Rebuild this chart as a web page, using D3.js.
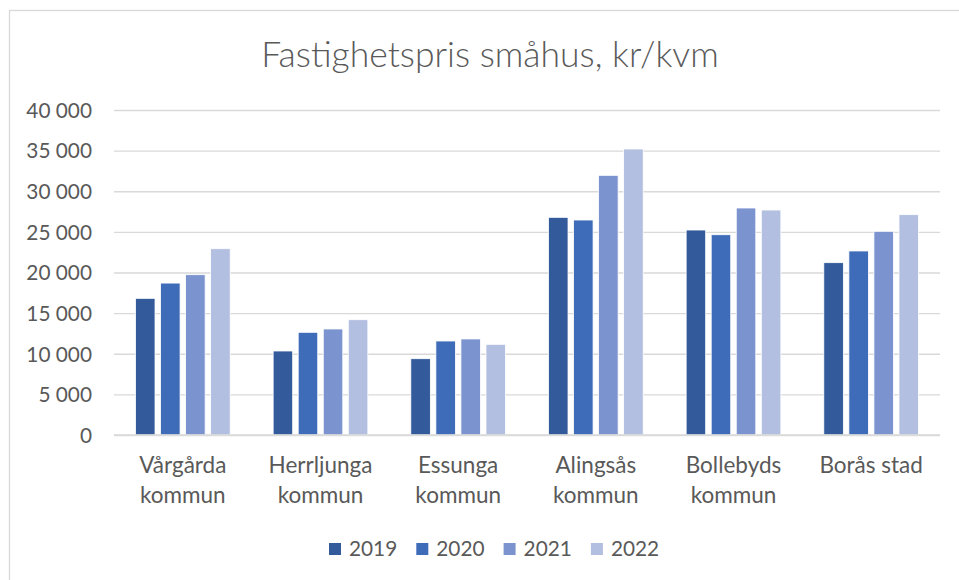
<!DOCTYPE html>
<html>
<head>
<meta charset="utf-8">
<script src="https://cdn.jsdelivr.net/npm/d3@7"></script>
<style>
  body { margin: 0; background: #fff; }
  text { font-family: Lato, "Open Sans", sans-serif; fill: #595959; }
</style>
</head>
<body>
<svg id="chart" width="959" height="580"></svg>
<script>
var categories = ["Vårgårda kommun", "Herrljunga kommun", "Essunga kommun", "Alingsås kommun", "Bollebyds kommun", "Borås stad"];
var years = ["2019", "2020", "2021", "2022"];
var v2019 = [16820, 10340, 9390, 26790, 25230, 21210];
var v2020 = [18700, 12640, 11570, 26460, 24650, 22650];
var v2021 = [19730, 13050, 11820, 31960, 27940, 25070];
var v2022 = [22930, 14190, 11160, 35200, 27690, 27120];
var yTicks = [0, 5000, 10000, 15000, 20000, 25000, 30000, 35000, 40000];
var colors = ["#335a9a", "#3f6cb9", "#7b93ce", "#b3bfe0"];

var series = [v2019, v2020, v2021, v2022];
var svg = d3.select("#chart");

var plotLeft = 114, plotRight = 940, plotTop = 110, plotBottom = 435;

// chart frame (Excel-like border, runs off the right/bottom)
svg.append("rect")
	.attr("x", 9.5).attr("y", 10.5)
	.attr("width", 980).attr("height", 600)
	.attr("fill", "#fff")
	.attr("stroke", "#d9d9d9")
	.attr("stroke-width", 1.3);

svg.append("text")
	.attr("x", 490).attr("y", 67)
	.attr("text-anchor", "middle")
	.style("font-size", "35.5px")
	.style("font-weight", 300)
	.text("Fastighetspris småhus, kr/kvm");

var y = d3.scaleLinear().domain([0, 40000]).range([plotBottom, plotTop]);
var x0 = d3.scaleBand().domain(categories).range([plotLeft, plotRight]).paddingInner(0.312).paddingOuter(0.156);
var x1 = d3.scaleBand().domain(years).range([0, x0.bandwidth()]).paddingInner(0.22);

var fmt = d3.formatLocale({ decimal: ",", thousands: " ", grouping: [3], currency: ["", " kr"] }).format(",d");

var yAxis = d3.axisLeft(y).tickValues(yTicks).tickSize(-(plotRight - plotLeft)).tickFormat(fmt);
var gy = svg.append("g")
	.attr("transform", "translate(" + plotLeft + ",0)")
	.call(yAxis);
gy.select(".domain").remove();
gy.selectAll(".tick line").attr("stroke", "#d9d9d9").attr("stroke-width", 1.4);
gy.selectAll(".tick text")
	.attr("x", -22)
	.attr("dy", "0.35em")
	.style("font-size", "20.8px")
	.style("font-family", "Lato, sans-serif")
	.attr("fill", "#595959");

var groups = svg.selectAll(".grp")
	.data(categories)
  .enter().append("g")
	.attr("class", "grp")
	.attr("transform", function(d) { return "translate(" + x0(d) + ",0)"; });

groups.selectAll("rect")
	.data(function(d, i) { return series.map(function(s, k) { return { year: years[k], value: s[i], k: k }; }); })
  .enter().append("rect")
	.attr("x", function(d) { return x1(d.year); })
	.attr("y", function(d) { return y(d.value); })
	.attr("width", x1.bandwidth())
	.attr("height", function(d) { return y(0) - y(d.value); })
	.attr("fill", function(d) { return colors[d.k]; })
	.attr("stroke", "#fff")
	.attr("stroke-width", 0.8);

// baseline
svg.append("line")
	.attr("x1", plotLeft).attr("x2", plotRight)
	.attr("y1", y(0)).attr("y2", y(0))
	.attr("stroke", "#d9d9d9").attr("stroke-width", 1.4);

// category labels, wrapped before "kommun"
var xAxis = d3.axisBottom(x0).tickSize(0).tickPadding(0);
var gx = svg.append("g")
	.attr("transform", "translate(0," + plotBottom + ")")
	.call(xAxis);
gx.select(".domain").remove();
gx.selectAll(".tick text").each(function(d) {
	var t = d3.select(this).text("").attr("y", 0).attr("dy", null)
		.style("font-size", "22.5px").attr("fill", "#595959");
	var parts = d.split(" ");
	var lines = parts[1] === "kommun" ? [parts[0], parts[1]] : [d];
	lines.forEach(function(l, i) {
		t.append("tspan").attr("x", 0).attr("y", 38 + i * 30).text(l);
	});
});

// legend
var legend = svg.selectAll(".leg")
	.data(years)
  .enter().append("g")
	.attr("class", "leg")
	.attr("transform", function(d, i) { return "translate(" + (329 + i * 87.3) + ",543)"; });
legend.append("rect")
	.attr("width", 12).attr("height", 12)
	.attr("fill", function(d, i) { return colors[i]; });
legend.append("text")
	.attr("x", 20).attr("y", 13)
	.style("font-size", "20.8px")
	.text(function(d) { return d; });
</script>
</body>
</html>
